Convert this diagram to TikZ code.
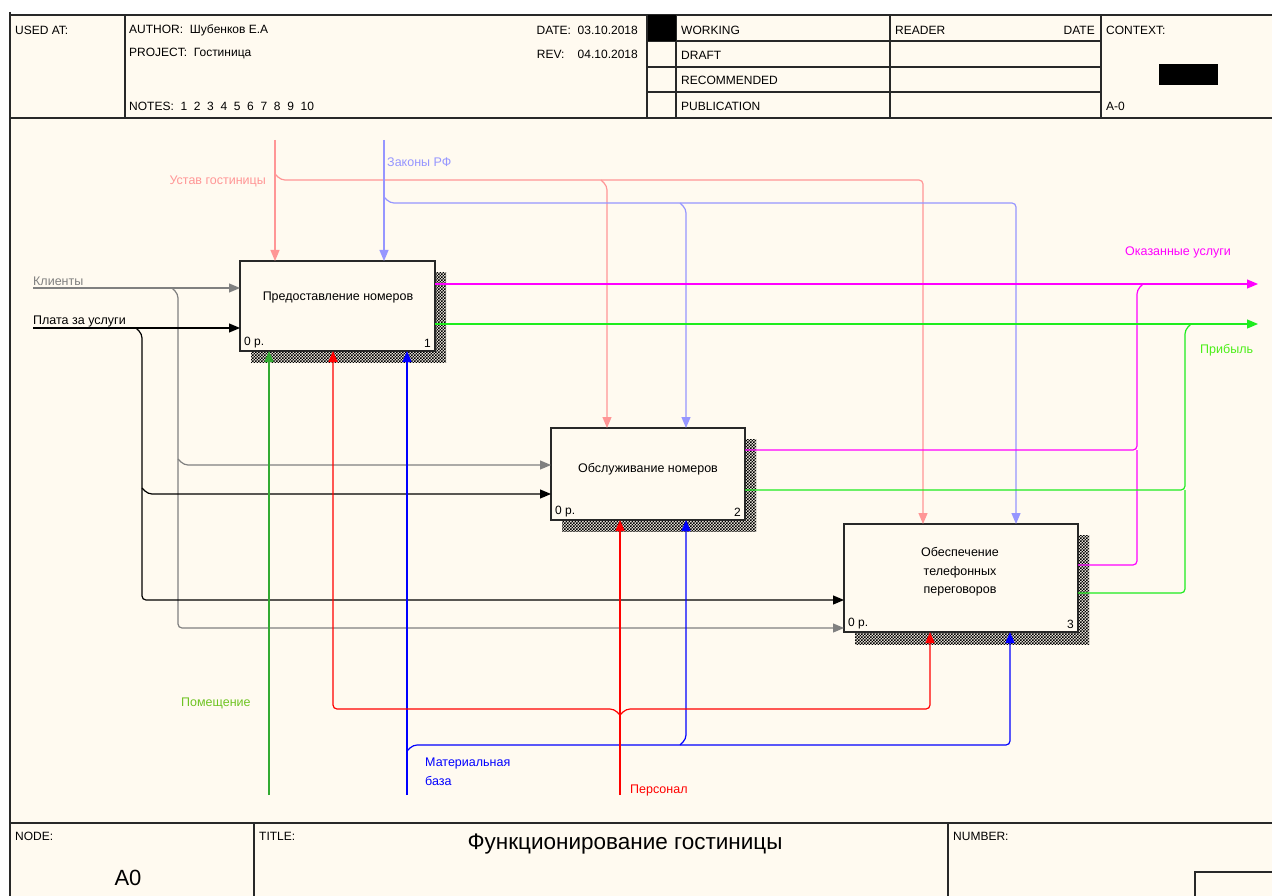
\documentclass[tikz,border=0pt]{standalone}
\usepackage{fontspec}
\setmainfont{Liberation Sans}
\usetikzlibrary{arrows.meta,patterns}
\pgfdeclarepatternformonly{dither}{\pgfqpoint{-0.5pt}{-0.5pt}}{\pgfqpoint{3.5pt}{3.5pt}}{\pgfqpoint{3pt}{3pt}}{%
  \pgfpathrectangle{\pgfqpoint{0pt}{0pt}}{\pgfqpoint{1.5pt}{1.5pt}}%
  \pgfpathrectangle{\pgfqpoint{1.5pt}{1.5pt}}{\pgfqpoint{1.5pt}{1.5pt}}%
  \pgfusepath{fill}}
\definecolor{cream}{RGB}{255,250,240}
\definecolor{frame}{RGB}{40,40,40}
\definecolor{cpink}{RGB}{255,150,150}
\definecolor{clblue}{RGB}{150,150,255}
\definecolor{cgray}{RGB}{128,128,128}
\definecolor{cmag}{RGB}{255,0,255}
\definecolor{cgreen}{RGB}{30,235,30}
\definecolor{cdgreen}{RGB}{50,170,50}
\definecolor{cred}{RGB}{255,0,0}
\definecolor{cblue}{RGB}{0,0,255}
\tikzset{
  fr/.style={draw=frame, line width=1.3pt},
  box/.style={draw=frame, line width=1.5pt, fill=cream, anchor=north west, inner sep=0pt, outer sep=0pt},
  flow/.style={line width=1.2pt, rounded corners=4pt},
  tip/.style={-{Triangle[length=11pt,width=9pt]}},
  hd/.style={font=\fontsize{12}{14}\selectfont, inner sep=0pt, anchor=west, text=black},
  lbl/.style={font=\fontsize{12.5}{14}\selectfont, inner sep=0pt, anchor=west},
  btxt/.style={font=\fontsize{12.5}{18.5}\selectfont, inner sep=0pt, align=center, text=black},
  shadow/.style={pattern=dither, pattern color=black},
}
\begin{document}
\begin{tikzpicture}[x=1pt,y=-1pt]
\useasboundingbox (0,0) rectangle (1272,896);
\fill[white] (0,0) rectangle (1272,896);
\fill[cream] (10,15) rectangle (1272,896);
% ---------- header frame ----------
\draw[fr] (10,15) -- (1272,15);
\draw[fr] (10,118) -- (1272,118);
\draw[frame, line width=2.6pt] (10,12) -- (10,896);
\draw[fr] (125,15) -- (125,118);
\draw[fr] (647,15) -- (647,118);
\draw[fr] (676,15) -- (676,118);
\draw[fr] (890,15) -- (890,118);
\draw[fr] (1101,15) -- (1101,118);
\draw[fr] (647,41) -- (1101,41);
\draw[fr] (647,67) -- (1101,67);
\draw[fr] (647,92) -- (1101,92);
\fill[black] (648,15) rectangle (676,41);
\fill[black] (1159,64) rectangle (1218,85);
\node[hd] (usedat) at (15,30) {USED AT:};
\node[hd] (author) at (129,30) {AUTHOR:\ \ Шубенков Е.А};
\node[hd] (project) at (129,54) {PROJECT:\ \ Гостиница};
\node[hd] (notes) at (129,106) {NOTES:\ \ 1\ \ 2\ \ 3\ \ 4\ \ 5\ \ 6\ \ 7\ \ 8\ \ 9\ \ 10};
\node[hd, anchor=east] (date) at (638,30) {DATE:\ \ 03.10.2018};
\node[hd, anchor=east] (rev) at (638,54) {REV:\ \ \ \ 04.10.2018};
\node[hd] (working) at (681,30) {WORKING};
\node[hd] (draft) at (681,55) {DRAFT};
\node[hd] (recom) at (681,80) {RECOMMENDED};
\node[hd] (publ) at (681,106) {PUBLICATION};
\node[hd] (reader) at (895,30) {READER};
\node[hd, anchor=east] (rdate) at (1095,30) {DATE};
\node[hd] (context) at (1106,30) {CONTEXT:};
\node[hd] (am0) at (1106,106) {A-0};
% ---------- footer ----------
\draw[fr] (10,823) -- (1272,823);
\draw[fr] (254,823) -- (254,896);
\draw[fr] (948,823) -- (948,896);
\draw[fr] (1195,896) -- (1195,872) -- (1272,872);
\node[hd] (node) at (15,836) {NODE:};
\node[hd] (titlelbl) at (259,836) {TITLE:};
\node[hd] (number) at (953,836) {NUMBER:};
\node[font=\fontsize{22}{26}\selectfont, inner sep=0pt] (a0) at (128,878) {A0};
\node[font=\fontsize{22.5}{26}\selectfont, inner sep=0pt] (title) at (625,844) {Функционирование гостиницы};
% ---------- shadows ----------
\fill[shadow] (251,272) rectangle (446,362);
\fill[shadow] (562,439) rectangle (756,531);
\fill[shadow] (855,535) rectangle (1089,644);
% ---------- boxes ----------
\node[box, minimum width=195pt, minimum height=90pt] (b1) at (240,261) {};
\node[box, minimum width=194pt, minimum height=92pt] (b2) at (551,428) {};
\node[box, minimum width=234pt, minimum height=108pt] (b3) at (844,524) {};
\node[btxt] (t1) at (338,297) {Предоставление номеров};
\node[btxt] (t2) at (648,469) {Обслуживание номеров};
\node[btxt] (t3) at (960,572) {Обеспечение\\телефонных\\переговоров};
\node[hd, anchor=south west] (c1) at ([shift={(4pt,3pt)}]b1.south west) {0 р.};
\node[hd, anchor=south east] (n1) at ([shift={(-4pt,3pt)}]b1.south east) {1};
\node[hd, anchor=south west] (c2) at ([shift={(4pt,3pt)}]b2.south west) {0 р.};
\node[hd, anchor=south east] (n2) at ([shift={(-4pt,3pt)}]b2.south east) {2};
\node[hd, anchor=south west] (c3) at ([shift={(4pt,3pt)}]b3.south west) {0 р.};
\node[hd, anchor=south east] (n3) at ([shift={(-4pt,3pt)}]b3.south east) {3};
% ---------- controls ----------
\coordinate (cU) at (275,140);
\coordinate (cZ) at (384,140);
\draw[flow,tip,cpink] (cU) -- (cU |- b1.north);
\draw[flow,tip,cpink] (275,174) -- (281,180) -- (923,180) -- (923,180 |- b3.north);
\draw[flow,tip,cpink] (601,180) -- (607,186) -- (607,186 |- b2.north);
\draw[flow,tip,clblue] (cZ) -- (cZ |- b1.north);
\draw[flow,tip,clblue] (384,197) -- (390,203) -- (1016,203) -- (1016,203 |- b3.north);
\draw[flow,tip,clblue] (680,203) -- (686,209) -- (686,209 |- b2.north);
\node[lbl, anchor=east, text=cpink] (lU) at (266,181) {Устав гостиницы};
\node[lbl, text=clblue] (lZ) at (387,162) {Законы РФ};
% ---------- inputs ----------
\coordinate (iK) at (33,288);
\coordinate (iP) at (33,328);
\draw[flow,tip,cgray] (iK) -- (iK -| b1.west);
\draw[flow,tip,cgray] (172,288) -- (178,294) -- (178,628) -- (178,628 -| b3.west);
\draw[flow,tip,cgray] (178,459) -- (184,465) -- (184,465 -| b2.west);
\draw[flow,tip,black] (iP) -- (iP -| b1.west);
\draw[flow,tip,black] (136,328) -- (142,334) -- (142,600) -- (142,600 -| b3.west);
\draw[flow,tip,black] (142,488) -- (148,494) -- (148,494 -| b2.west);
\node[lbl, text=cgray] (lK) at (33,281) {Клиенты};
\node[lbl, text=black] (lP) at (33,321) {Плата за услуги};
% ---------- mechanisms ----------
\coordinate (mP) at (269,795);
\coordinate (mM) at (407,795);
\coordinate (mS) at (620,795);
\draw[flow,tip,cdgreen] (mP) -- (mP |- b1.south);
\draw[flow,tip,cblue] (mM) -- (mM |- b1.south);
\draw[flow,tip,cblue] (407,751) -- (413,745) -- (1010,745) -- (1010,745 |- b3.south);
\draw[flow,tip,cblue] (680,745) -- (686,739) -- (686,739 |- b2.south);
\draw[flow,tip,cred] (mS) -- (mS |- b2.south);
\draw[flow,tip,cred] (620,715) -- (614,709) -- (333,709) -- (333,709 |- b1.south);
\draw[flow,tip,cred] (620,715) -- (626,709) -- (930,709) -- (930,709 |- b3.south);
\node[lbl, text=cdgreen!70!yellow] (lPm) at (181,703) {Помещение};
\node[lbl, text=cblue, align=left, font=\fontsize{12.5}{19}\selectfont] (lM) at (425,772) {Материальная\\база};
\node[lbl, text=cred] (lS) at (630,790) {Персонал};
% ---------- outputs ----------
\coordinate (oU) at (1258,284);
\coordinate (oP) at (1258,324);
\draw[flow,tip,cmag] (oU -| b1.east) -- (oU);
\draw[flow,cmag] (1137,450 -| b2.east) -- (1137,450) -- (1137,290) -- (1143,284);
\draw[flow,cmag] (1137,565 -| b3.east) -- (1137,565) -- (1137,450);
\draw[flow,tip,cgreen] (oP -| b1.east) -- (oP);
\draw[flow,cgreen] (1185,490 -| b2.east) -- (1185,490) -- (1185,330) -- (1191,324);
\draw[flow,cgreen] (1185,593 -| b3.east) -- (1185,593) -- (1185,490);
\node[lbl, text=cmag] (lO) at (1125,252) {Оказанные услуги};
\node[lbl, text=cgreen!80!yellow] (lPr) at (1200,350) {Прибыль};
\end{tikzpicture}
\end{document}
